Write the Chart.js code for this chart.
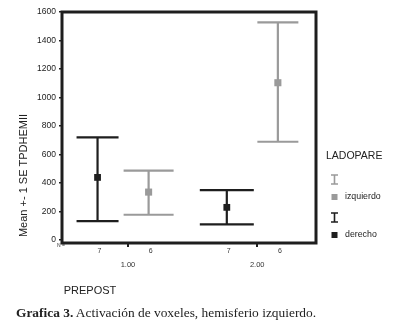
<!DOCTYPE html>
<html>
<head>
<meta charset="utf-8">
<script src="https://cdn.jsdelivr.net/npm/chart.js@4.4.0/dist/chart.umd.min.js"></script>
<style>
  body { margin: 0; background: #fff; }
  #wrap { position: relative; width: 394px; height: 334px; }
  #caption {
    position: absolute; left: 16px; top: 305px;
    font-family: "Liberation Serif", serif; font-size: 13.4px; color: #222;
    white-space: nowrap;
  }
</style>
</head>
<body>
<div id="wrap">
  <canvas id="chart" width="394" height="334"></canvas>
  <div id="caption"><b>Grafica 3.</b> Activación de voxeles, hemisferio izquierdo.</div>
</div>
<script>
// PREPOST groups and their N per side
const groups = ['1.00', '2.00'];
const nDerecho = [7, 7];
const nIzquierdo = [6, 6];

// mean +- 1 SE of TPDHEMII
const derechoMean = [440, 230];
const derechoUpper = [721, 351];
const derechoLower = [134, 111];
const izquierdoMean = [337, 1104];
const izquierdoUpper = [487, 1527];
const izquierdoLower = [178, 690];

const yTicks = [0, 200, 400, 600, 800, 1000, 1200, 1400, 1600];

const BLACK = '#1e1e1e';
const GRAY = '#9a9a9a';
const FONT = '"Liberation Sans", Arial, sans-serif';

// x offset of each side inside a group (in group units)
const OFF_DER = -0.235;
const OFF_IZQ = 0.16;

const series = [
  { label: 'derecho', color: BLACK, off: OFF_DER, mean: derechoMean, up: derechoUpper, lo: derechoLower, n: nDerecho, caps: [42, 54], r: 4.8 },
  { label: 'izquierdo', color: GRAY, off: OFF_IZQ, mean: izquierdoMean, up: izquierdoUpper, lo: izquierdoLower, n: nIzquierdo, caps: [50, 41], r: 5 },
];

const errorBars = {
  id: 'errorBars',
  beforeDatasetsDraw(chart) {
    const { ctx, scales: { x, y } } = chart;
    ctx.save();
    series.forEach((s) => {
      s.mean.forEach((m, i) => {
        const px = x.getPixelForValue(i + 1 + s.off);
        const yu = y.getPixelForValue(s.up[i]);
        const yl = y.getPixelForValue(s.lo[i]);
        const half = s.caps[i] / 2;
        ctx.strokeStyle = s.color;
        ctx.lineWidth = 2.2;
        ctx.beginPath();
        ctx.moveTo(px, yu); ctx.lineTo(px, yl);
        ctx.moveTo(px - half, yu); ctx.lineTo(px + half, yu);
        ctx.moveTo(px - half, yl); ctx.lineTo(px + half, yl);
        ctx.stroke();
      });
    });
    ctx.restore();
  },
  afterDraw(chart) {
    const { ctx, scales: { x }, chartArea } = chart;
    ctx.save();
    // frame
    ctx.strokeStyle = BLACK;
    ctx.lineWidth = 3;
    ctx.strokeRect(chartArea.left, chartArea.top, chartArea.right - chartArea.left, chartArea.bottom - chartArea.top);

    // N row
    ctx.fillStyle = '#333';
    ctx.textAlign = 'center';
    ctx.textBaseline = 'middle';
    ctx.font = '5px ' + FONT;
    ctx.fillText('N =', 61, 246);
    ctx.font = '7px ' + FONT;
    series.forEach((s) => {
      s.n.forEach((n, i) => {
        ctx.fillText(String(n), x.getPixelForValue(i + 1 + s.off) + 2, 251);
      });
    });

    // axis titles
    ctx.fillStyle = '#222';
    ctx.font = '11px ' + FONT;
    ctx.fillText('PREPOST', 90, 291);
    ctx.save();
    ctx.translate(24, 175.5);
    ctx.rotate(-Math.PI / 2);
    ctx.fillText('Mean +- 1 SE TPDHEMII', 0, 0);
    ctx.restore();

    // legend
    ctx.textAlign = 'left';
    ctx.font = '10.5px ' + FONT;
    ctx.fillText('LADOPARE', 326, 156);
    const legendRows = [
      { s: series[1], iy: 175, sy: 194, ty: 197 },
      { s: series[0], iy: 213, sy: 232, ty: 235 },
    ];
    ctx.font = '8.8px ' + FONT;
    legendRows.forEach((row) => {
      ctx.strokeStyle = row.s.color;
      ctx.lineWidth = 1.6;
      ctx.beginPath();
      ctx.moveTo(331, row.iy); ctx.lineTo(338, row.iy);
      ctx.moveTo(334.5, row.iy); ctx.lineTo(334.5, row.iy + 9);
      ctx.moveTo(331, row.iy + 9); ctx.lineTo(338, row.iy + 9);
      ctx.stroke();
      ctx.fillStyle = row.s.color;
      ctx.fillRect(331.5, row.sy, 6, 6);
      ctx.fillStyle = '#222';
      ctx.fillText(row.s.label, 345, row.ty);
    });
    ctx.restore();
  },
};

new Chart(document.getElementById('chart'), {
  type: 'scatter',
  data: {
    datasets: series.map((s) => ({
      label: s.label,
      data: s.mean.map((m, i) => ({ x: i + 1 + s.off, y: m })),
      pointStyle: 'rect',
      pointRadius: s.r,
      backgroundColor: s.color,
      borderColor: s.color,
      borderWidth: 0,
    })),
  },
  options: {
    responsive: false,
    animation: false,
    devicePixelRatio: 1,
    layout: { padding: { left: 0, top: 12, right: 78, bottom: 0 } },
    plugins: { legend: { display: false }, tooltip: { enabled: false } },
    scales: {
      x: {
        type: 'linear',
        min: 0.49,
        max: 2.455,
        afterFit: (s) => { s.height = 91; },
        afterBuildTicks: (s) => { s.ticks = groups.map((g, i) => ({ value: i + 1 })); },
        border: { display: false },
        grid: { drawOnChartArea: false, drawTicks: true, tickLength: 4, color: BLACK, lineWidth: 2 },
        ticks: {
          padding: 13,
          color: '#333',
          font: { family: FONT, size: 7.5 },
          callback: (v, i) => groups[i],
        },
      },
      y: {
        min: -20,
        max: 1600,
        afterFit: (s) => { s.width = 62; },
        afterBuildTicks: (s) => { s.ticks = yTicks.map((v) => ({ value: v })); },
        border: { display: false },
        grid: { drawOnChartArea: false, drawTicks: true, tickLength: 3, color: BLACK, lineWidth: 1.5 },
        ticks: {
          padding: 3,
          color: '#222',
          font: { family: FONT, size: 8.5 },
          callback: (v) => String(v),
        },
      },
    },
  },
  plugins: [errorBars],
});
</script>
</body>
</html>
